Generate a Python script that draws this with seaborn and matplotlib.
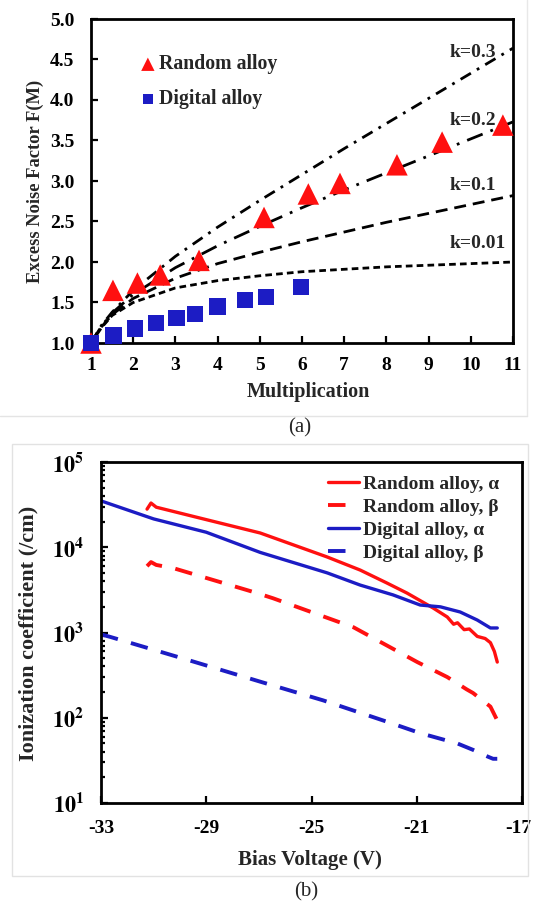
import math
import matplotlib
matplotlib.use("Agg")
import matplotlib.pyplot as plt
import seaborn as sns
from matplotlib.ticker import FuncFormatter, LogLocator, MultipleLocator, NullFormatter
from matplotlib.patches import Rectangle
from matplotlib.lines import Line2D
from matplotlib.transforms import ScaledTranslation

# ---------------------------------------------------------------
# (a) excess noise factor vs multiplication
# ---------------------------------------------------------------
mult_random = [1.0, 1.52, 2.1, 2.64, 3.56, 5.1, 6.15, 6.9, 8.25, 9.32, 10.76]
noise_random = [1.0, 1.65, 1.74, 1.84, 2.02, 2.55, 2.84, 2.97, 3.2, 3.48, 3.69]

mult_digital = [1.0, 1.53, 2.04, 2.54, 3.03, 3.46, 4.0, 4.65, 5.15, 5.98]
noise_digital = [1.0, 1.09, 1.18, 1.25, 1.31, 1.36, 1.45, 1.53, 1.57, 1.69]

# theory curves
mult_k = [1.0, 1.25, 1.5, 2, 3, 4, 5, 6, 7, 8, 9, 10, 11]
noise_k03 = [1.0, 1.22, 1.38, 1.65, 2.07, 2.43, 2.76, 3.08, 3.4, 3.71, 4.02, 4.33, 4.64]
noise_k02 = [1.0, 1.21, 1.37, 1.6, 1.93, 2.2, 2.44, 2.67, 2.89, 3.1, 3.31, 3.52, 3.73]
noise_k01 = [1.0, 1.2, 1.35, 1.55, 1.8, 1.98, 2.12, 2.25, 2.37, 2.49, 2.6, 2.71, 2.82]
noise_k001 = [1.0, 1.19, 1.34, 1.5, 1.68, 1.77, 1.83, 1.88, 1.91, 1.94, 1.96, 1.98, 2.0]
k_labels = ["k=0.3", "k=0.2", "k=0.1", "k=0.01"]
k_label_y = [4.59, 3.75, 2.95, 2.23]

# ---------------------------------------------------------------
# (b) ionization coefficients vs bias
# ---------------------------------------------------------------
volt_ra = [-31.25, -31.1, -30.9, -29.24, -26.95, -24.41, -23.15, -22.13, -21.37,
           -20.38, -19.84, -19.6, -19.45, -19.2, -19.0, -18.7, -18.4, -18.2, -18.05, -17.94]
alpha_ra = [2.8e4, 3.3e4, 2.95e4, 2.2e4, 1.47e4, 7.7e3, 5.4e3, 3.8e3, 2.9e3,
            1.94e3, 1.52e3, 1.25e3, 1.3e3, 1.08e3, 1.1e3, 900, 850, 760, 600, 450]

volt_rb = [-31.25, -31.1, -30.9, -30.26, -27.07, -26.46, -23.4, -20.98, -19.84,
           -19.1, -18.86, -18.2, -17.94]
beta_rb = [6.0e3, 6.7e3, 6.2e3, 5.7e3, 2.9e3, 2.52e3, 1.15e3, 450, 300,
           215, 195, 135, 93]

volt_da = [-33, -31.0, -29.0, -26.95, -24.4, -23.15, -21.9, -20.87, -20.1,
           -19.35, -18.7, -18.2, -17.94]
alpha_da = [3.5e4, 2.15e4, 1.5e4, 8.7e3, 5.0e3, 3.6e3, 2.76e3, 2.1e3, 2.0e3,
            1.74e3, 1.4e3, 1.13e3, 1.13e3]

volt_db = [-33, -32.66, -29.73, -26.95, -24.56, -22.0, -20.87, -19.46, -18.86,
           -18.3, -18.1, -17.94]
beta_db = [950, 890, 480, 265, 160, 87, 66, 50, 42, 35, 33, 33]

bias_ticks = [-33, -29, -25, -21, -17]

RED = "#ff1010"
BLUE = "#1c1cc4"

sns.set_theme(style="ticks")
plt.rcParams["font.family"] = ["Liberation Serif", "DejaVu Serif"]
plt.rcParams["font.weight"] = "bold"
plt.rcParams["axes.labelweight"] = "bold"
plt.rcParams["mathtext.fontset"] = "stix"

fig = plt.figure(figsize=(5.33, 9.13), dpi=100)
W, H = 533.0, 913.0


def px_rect(x0, y0, x1, y1):
    return [x0 / W, 1 - y1 / H, (x1 - x0) / W, (y1 - y0) / H]


def style_axes(ax, xpad, ypad):
    for sp in ax.spines.values():
        sp.set_linewidth(2.0)
        sp.set_color("black")
    ax.tick_params(which="both", direction="in", top=False, right=False,
                   width=1.6, labelsize=14, colors="black")
    ax.tick_params(which="major", length=5)
    ax.tick_params(which="minor", length=3)
    ax.tick_params(axis="x", pad=xpad)
    ax.tick_params(axis="y", pad=ypad)


# ------------------------- panel (a) -------------------------
ax1 = fig.add_axes(px_rect(91, 19, 513, 343))
curve_styles = [
    (noise_k03, (0, (4.3, 2.5, 1.0, 2.5))),
    (noise_k02, (0, (6.0, 3.0, 1.0, 3.0))),
    (noise_k01, (0, (4.3, 2.5))),
    (noise_k001, (0, (2.4, 1.5))),
]
for vals, ls in curve_styles:
    sns.lineplot(x=mult_k, y=vals, ax=ax1, color="black", lw=2.0,
                 linestyle=ls, sort=False, estimator=None)

sns.scatterplot(x=mult_random, y=noise_random, ax=ax1, marker="^", s=240,
                color=RED, edgecolor="none", clip_on=False, zorder=4,
                label="Random alloy")
sns.scatterplot(x=mult_digital, y=noise_digital, ax=ax1, marker="s", s=140,
                color=BLUE, edgecolor="none", clip_on=False, zorder=5,
                label="Digital alloy")

for txt, yv in zip(k_labels, k_label_y):
    ax1.text(9.5, yv, txt, fontsize=14, fontweight="bold", va="center", ha="left")

ax1.set_xlim(1, 11)
ax1.set_ylim(1, 5)
ax1.xaxis.set_major_locator(MultipleLocator(1))
ax1.yaxis.set_major_locator(MultipleLocator(0.5))
ax1.yaxis.set_major_formatter(FuncFormatter(lambda v, p: f"{v:.1f}"))
ax1.set_xlabel("Multiplication", fontsize=14.5, va="center")
ax1.set_ylabel("Excess Noise Factor F(M)", fontsize=13.3, va="center")
ax1.xaxis.set_label_coords(0.514, -0.151)
ax1.yaxis.set_label_coords(-0.133, 0.5)
style_axes(ax1, xpad=10, ypad=12)
leg1 = ax1.legend(loc="upper left", bbox_to_anchor=(0.095, 0.915), frameon=False,
                  fontsize=14.2, handlelength=0.9, handletextpad=0.1,
                  labelspacing=0.75, markerscale=0.62, borderaxespad=0)
for t in leg1.get_texts():
    t.set_fontweight("bold")

fig.text(300 / W, 1 - 428 / H, "(a)", fontsize=15, fontweight="normal",
         ha="center", va="center")

# ------------------------- panel (b) -------------------------
ax2 = fig.add_axes(px_rect(101, 462, 522, 803))
sns.lineplot(x=volt_ra, y=alpha_ra, ax=ax2, color=RED, lw=2.4, sort=False,
             estimator=None, label="Random alloy, α")
sns.lineplot(x=volt_rb, y=beta_rb, ax=ax2, color=RED, lw=2.8, sort=False,
             estimator=None, linestyle=(0, (4.5, 3.5)), label="Random alloy, β")
sns.lineplot(x=volt_da, y=alpha_da, ax=ax2, color=BLUE, lw=2.4, sort=False,
             estimator=None, label="Digital alloy, α")
sns.lineplot(x=volt_db, y=beta_db, ax=ax2, color=BLUE, lw=2.8, sort=False,
             estimator=None, linestyle=(0, (4.5, 3.5)), label="Digital alloy, β")

ax2.set_yscale("log")
ax2.set_xlim(-33, -17)
ax2.set_ylim(10, 1e5)
ax2.set_xticks(bias_ticks)
ax2.xaxis.set_major_formatter(FuncFormatter(lambda v, p: f"{int(v)}"))
ax2.yaxis.set_major_locator(LogLocator(base=10, numticks=10))
ax2.yaxis.set_minor_locator(LogLocator(base=10, subs=range(2, 10), numticks=20))
ax2.yaxis.set_minor_formatter(NullFormatter())
ax2.yaxis.set_major_formatter(
    FuncFormatter(lambda v, p: r"$\mathbf{10^{%d}}$" % round(math.log10(v))))
ax2.set_xlabel("Bias Voltage (V)", fontsize=15, va="center")
ax2.set_ylabel("Ionization coefficient (/cm)", fontsize=16, va="center")
ax2.xaxis.set_label_coords(0.497, -0.167)
ax2.yaxis.set_label_coords(-0.173, 0.496)
style_axes(ax2, xpad=12, ypad=12)
ax2.tick_params(axis="y", which="major", labelsize=16)

# keep the last bias label inside the canvas, as in the original
fig.canvas.draw()
last_lbl = ax2.get_xticklabels()[-1]
last_lbl.set_transform(last_lbl.get_transform() +
                       ScaledTranslation(-4 / 100, 0, fig.dpi_scale_trans))

leg2 = ax2.legend(loc="upper right", bbox_to_anchor=(0.965, 0.985), frameon=False,
                  fontsize=14, handlelength=1.55, handletextpad=0.25,
                  labelspacing=0.28, borderaxespad=0)
for t in leg2.get_texts():
    t.set_fontweight("bold")

fig.text(306 / W, 1 - 892 / H, "(b)", fontsize=15, fontweight="normal",
         ha="center", va="center")

# light frames of the original figure panels
fig.add_artist(Rectangle((12 / W, 1 - 876 / H), (528 - 12) / W, (876 - 444) / H,
                         transform=fig.transFigure, fill=False, ec="#e2e2e2", lw=1.0))
fig.add_artist(Line2D([527 / W, 527 / W], [1 - 416 / H, 1.0], transform=fig.transFigure,
                      color="#e8e8e8", lw=1.0))
fig.add_artist(Line2D([0, 527 / W], [1 - 416 / H, 1 - 416 / H], transform=fig.transFigure,
                      color="#e4e4e4", lw=1.0))

fig.savefig("out.png", dpi=100)
